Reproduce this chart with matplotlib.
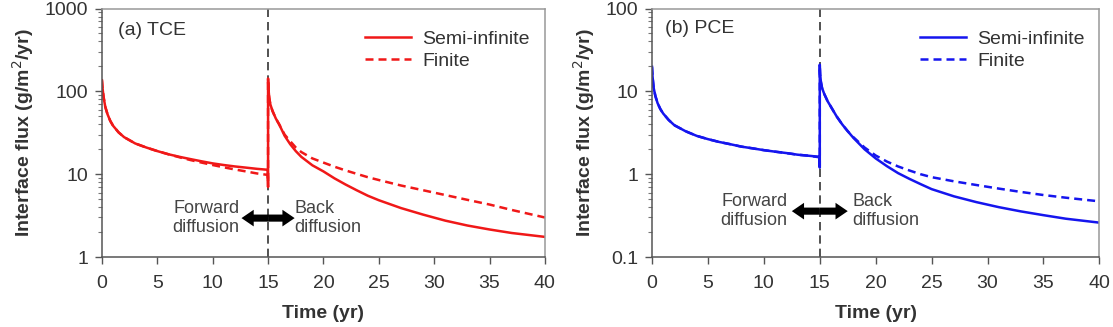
import matplotlib
matplotlib.use("Agg")
import matplotlib.pyplot as plt
from matplotlib.ticker import LogLocator, NullFormatter, FixedLocator

plt.rcParams['font.family'] = ['Liberation Sans', 'DejaVu Sans']

# ---------------- data ----------------
# Time (yr); the jump at t = 15 is given as two points at the same time
t_tce_semi = [0, 0.05, 0.15, 0.3, 0.5, 0.75, 1, 1.5, 2, 3, 4, 5, 6, 7, 8, 9, 10, 11, 12, 13, 14, 14.97, 15.0,
              15.0, 15.03, 15.1, 15.2, 15.4, 15.7, 16, 16.5, 17, 17.5, 18, 19, 20, 21, 22, 23, 24, 25, 27, 29,
              31, 33, 35, 37, 40]
f_tce_semi = [136, 110, 85, 65, 53, 44, 38.5, 32, 28, 23.5, 21, 19, 17.4, 16.2, 15.2, 14.3, 13.5, 12.9, 12.4,
              12.0, 11.6, 11.3, 7.0,
              143, 110, 85, 70, 58, 47, 40, 29, 23, 19, 16.2, 12.8, 10.8, 8.9, 7.5, 6.4, 5.5, 4.85, 3.9, 3.25,
              2.75, 2.4, 2.15, 1.95, 1.75]

t_tce_fin = [0, 0.05, 0.15, 0.3, 0.5, 0.75, 1, 1.5, 2, 3, 4, 5, 6, 7, 8, 9, 10, 11, 12, 13, 14, 14.97, 15.0,
             15.0, 15.03, 15.1, 15.2, 15.4, 15.7, 16, 16.5, 17, 17.5, 18, 19, 20, 21, 22, 23, 24, 25, 27, 29,
             31, 33, 35, 37, 40]
f_tce_fin = [136, 110, 85, 65, 53, 44, 38.5, 32, 28, 23.5, 21, 19, 17.4, 16.0, 14.8, 13.8, 12.9, 12.1, 11.4,
             10.8, 10.2, 9.8, 8.0,
             138, 108, 84, 70, 58, 47, 40, 30, 25, 21, 18.5, 15.5, 13.8, 12.3, 11.1, 10.1, 9.2, 8.5, 7.3, 6.4,
             5.6, 4.9, 4.3, 3.7, 3.0]

t_pce_semi = [0, 0.05, 0.15, 0.3, 0.5, 0.75, 1, 1.5, 2, 3, 4, 5, 6, 7, 8, 9, 10, 11, 12, 13, 14, 14.97, 15.0,
              15.0, 15.03, 15.1, 15.2, 15.4, 15.7, 16, 16.5, 17, 17.5, 18, 19, 20, 21, 22, 23, 24, 25, 27, 29,
              31, 33, 35, 37, 40]
f_pce_semi = [19.8, 15, 11, 8.8, 7.2, 6.1, 5.4, 4.5, 3.9, 3.3, 2.9, 2.65, 2.45, 2.3, 2.15, 2.05, 1.95, 1.87,
              1.8, 1.72, 1.67, 1.62, 1.2,
              21, 16, 13, 11, 9.3, 7.6, 6.5, 5.0, 4.0, 3.3, 2.75, 2.0, 1.55, 1.25, 1.03, 0.88, 0.76, 0.66,
              0.54, 0.46, 0.40, 0.355, 0.32, 0.29, 0.26]

t_pce_fin = [0, 0.05, 0.15, 0.3, 0.5, 0.75, 1, 1.5, 2, 3, 4, 5, 6, 7, 8, 9, 10, 11, 12, 13, 14, 14.97, 15.0,
             15.0, 15.03, 15.1, 15.2, 15.4, 15.7, 16, 16.5, 17, 17.5, 18, 19, 20, 21, 22, 23, 24, 25, 27, 29,
             31, 33, 35, 37, 40]
f_pce_fin = [19.8, 15, 11, 8.8, 7.2, 6.1, 5.4, 4.5, 3.9, 3.3, 2.9, 2.65, 2.45, 2.3, 2.15, 2.05, 1.95, 1.87,
             1.8, 1.72, 1.67, 1.60, 1.25,
             20, 16, 13, 11, 9.3, 7.6, 6.5, 5.0, 4.0, 3.3, 2.8, 2.1, 1.68, 1.42, 1.24, 1.11, 1.0, 0.92,
             0.82, 0.74, 0.67, 0.61, 0.56, 0.52, 0.47]

x_ticks = [0, 5, 10, 15, 20, 25, 30, 35, 40]
series_labels = ['Semi-infinite', 'Finite']

panels = [
    dict(title='(a) TCE', title_x=0.036, title_y=0.913, color='#f01818',
         semi=(t_tce_semi, f_tce_semi), fin=(t_tce_fin, f_tce_fin),
         ylim=(1, 1000), yticks=[1, 10, 100, 1000], yticklabels=['1', '10', '100', '1000'],
         arrow_y=2.95, left_tip=12.6, right_tip=17.4, fwd_x=12.4, back_x=17.4),
    dict(title='(b) PCE', title_x=0.029, title_y=0.921, color='#1515ee',
         semi=(t_pce_semi, f_pce_semi), fin=(t_pce_fin, f_pce_fin),
         ylim=(0.1, 100), yticks=[0.1, 1, 10, 100], yticklabels=['0.1', '1', '10', '100'],
         arrow_y=0.358, left_tip=12.5, right_tip=17.5, fwd_x=12.1, back_x=17.9),
]

fig = plt.figure(figsize=(11.13, 3.27), dpi=100)
axes_rects = [[0.0916, 0.214, 0.398, 0.760], [0.5858, 0.214, 0.402, 0.760]]

txt_col = '#333333'
for rect, p in zip(axes_rects, panels):
    ax = fig.add_axes(rect)
    ax.set_yscale('log')
    l1, = ax.plot(p['semi'][0], p['semi'][1], color=p['color'], lw=1.8, label=series_labels[0])
    l2, = ax.plot(p['fin'][0], p['fin'][1], color=p['color'], lw=1.8, ls=(0, (3.2, 2.0)),
                  label=series_labels[1])
    ax.axvline(15, color='#333333', lw=1.2, ls=(0, (5, 3)), zorder=1)
    ax.set_xlim(0, 40)
    ax.set_ylim(*p['ylim'])
    ax.xaxis.set_major_locator(FixedLocator(x_ticks))
    ax.set_xticklabels([str(v) for v in x_ticks])
    ax.yaxis.set_major_locator(FixedLocator(p['yticks']))
    ax.set_yticklabels(p['yticklabels'])
    ax.yaxis.set_minor_locator(LogLocator(base=10, subs=range(2, 10)))
    ax.yaxis.set_minor_formatter(NullFormatter())
    ax.tick_params(axis='both', which='major', labelsize=14, colors='#555555', labelcolor=txt_col,
                   direction='out', length=5, width=1)
    ax.tick_params(axis='y', which='minor', direction='out', length=3, width=0.8, colors='#777777')
    ax.tick_params(axis='x', pad=8)
    ax.tick_params(axis='y', pad=5)
    for side in ['left', 'bottom']:
        ax.spines[side].set_color('#555555')
        ax.spines[side].set_linewidth(1.1)
    for side in ['top', 'right']:
        ax.spines[side].set_color('#999999')
        ax.spines[side].set_linewidth(1.1)
    ax.set_xlabel('Time (yr)', fontsize=14, fontweight='bold', color=txt_col, labelpad=9)
    ax.set_ylabel('Interface flux (g/m$^2$/yr)', fontsize=14, fontweight='bold', color=txt_col, labelpad=6)
    ax.text(p['title_x'], p['title_y'], p['title'], transform=ax.transAxes, fontsize=14, color=txt_col,
            ha='left', va='center')
    leg = ax.legend(handles=[l1, l2], loc='upper right', bbox_to_anchor=(1.0, 0.972), frameon=False,
                    fontsize=14, handlelength=2.37, handletextpad=0.57, labelspacing=0.2,
                    borderaxespad=0.37)
    for t in leg.get_texts():
        t.set_color(txt_col)
    arrow_style = 'simple,head_length=0.55,head_width=0.75,tail_width=0.32'
    for tip in (p['left_tip'], p['right_tip']):
        ax.annotate('', xy=(tip, p['arrow_y']), xytext=(15, p['arrow_y']),
                    arrowprops=dict(arrowstyle=arrow_style, mutation_scale=16, color='black', lw=0,
                                    shrinkA=0, shrinkB=0))
    ax.text(p['fwd_x'], p['arrow_y'], 'Forward\ndiffusion', fontsize=13, color='#444444',
            ha='right', va='center', linespacing=1.15)
    ax.text(p['back_x'], p['arrow_y'], 'Back\ndiffusion', fontsize=13, color='#444444',
            ha='left', va='center', linespacing=1.15)

fig.savefig('out.png', dpi=100)
